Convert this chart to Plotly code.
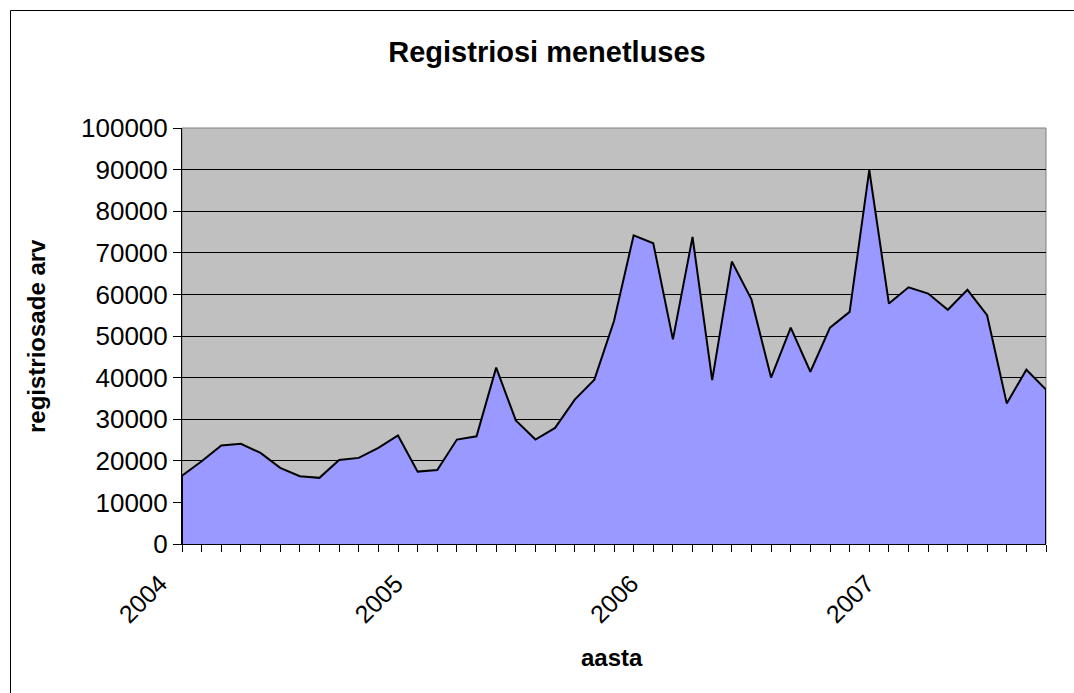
import plotly.graph_objects as go

# Monthly values, Jan 2004 .. Sep 2007
years = ["2004", "2005", "2006", "2007"]
values = [
    16400, 19900, 23700, 24100, 21900, 18300, 16300, 15900, 20200, 20700, 23100, 26100,  # 2004
    17400, 17800, 25100, 25900, 42400, 29700, 25100, 27900, 34700, 39500, 53600, 74200,  # 2005
    72300, 49200, 73800, 39400, 67900, 58800, 40000, 52000, 41400, 52000, 55800, 89900,  # 2006
    57800, 61700, 60200, 56300, 61100, 55000, 33800, 41900, 37100,                        # 2007
]
y_ticks = [0, 10000, 20000, 30000, 40000, 50000, 60000, 70000, 80000, 90000, 100000]

idx = list(range(len(values)))
months_per_year = 12
year_pos = [i * months_per_year for i in range(len(years))]

# closed polygon so the black outline runs around the whole area (Excel style)
xp = [idx[0]] + idx + [idx[-1]]
yp = [0] + values + [0]

W, H = 1074, 693
L, R, T, B = 182, 28, 128, 149
pw, ph = W - L - R, H - T - B

def px_x(p):
    return (p - L) / pw

def px_y(p):
    return (H - B - p) / ph

fig = go.Figure()
fig.add_trace(go.Scatter(
    x=xp, y=yp, mode="lines", fill="toself", fillcolor="#9999FF",
    line=dict(color="black", width=2), hoverinfo="skip", showlegend=False,
))

font = "Liberation Sans, Arial, sans-serif"
fig.update_layout(
    width=W, height=H,
    margin=dict(l=L, r=R, t=T, b=B),
    paper_bgcolor="white",
    plot_bgcolor="#C0C0C0",
    showlegend=False,
    title=dict(text="<b>Registriosi menetluses</b>", x=547 / W, xanchor="center",
               y=1 - 52 / H, yanchor="middle", xref="container", yref="container",
               font=dict(family=font, size=29, color="black")),
    xaxis=dict(range=[idx[0], idx[-1]], tickmode="array", tickvals=year_pos, ticktext=years,
               tickangle=-45, ticks="outside", ticklen=7, tickcolor="black", tickwidth=1,
               ticklabelshift=-22, ticklabelstandoff=7,
               showgrid=False, zeroline=False, showline=True, linecolor="black", linewidth=1,
               tickfont=dict(family=font, size=25, color="black"),
               minor=dict(tick0=0, dtick=1, ticks="outside", ticklen=7, tickcolor="black",
                          tickwidth=1, showgrid=False)),
    yaxis=dict(range=[0, 100000], tickmode="array", tickvals=y_ticks,
               ticktext=[str(v) for v in y_ticks],
               ticks="outside", ticklen=8, tickcolor="black", tickwidth=1,
               showgrid=True, gridcolor="black", gridwidth=1, zeroline=False,
               showline=True, linecolor="black", linewidth=1,
               tickfont=dict(family=font, size=26, color="black")),
    shapes=[
        dict(type="rect", xref="paper", yref="paper", x0=0, y0=0, x1=1, y1=1,
             line=dict(color="#808080", width=1), layer="below"),
        dict(type="rect", xref="paper", yref="paper",
             x0=px_x(10.5), y0=px_y(10.5), x1=px_x(W + 20), y1=px_y(H + 20),
             line=dict(color="black", width=1), layer="below"),
    ],
    annotations=[
        dict(text="<b>registriosade arv</b>", xref="paper", yref="paper",
             x=px_x(36), y=0.5, xanchor="center", yanchor="middle", textangle=-90,
             showarrow=False, font=dict(family=font, size=24, color="black")),
        dict(text="<b>aasta</b>", xref="paper", yref="paper",
             x=px_x(612), y=px_y(657), xanchor="center", yanchor="middle",
             showarrow=False, font=dict(family=font, size=24, color="black")),
    ],
)

fig.write_html("out.html", config={"displayModeBar": False},
               post_script="document.body.style.margin='0';document.body.style.overflow='hidden';")
